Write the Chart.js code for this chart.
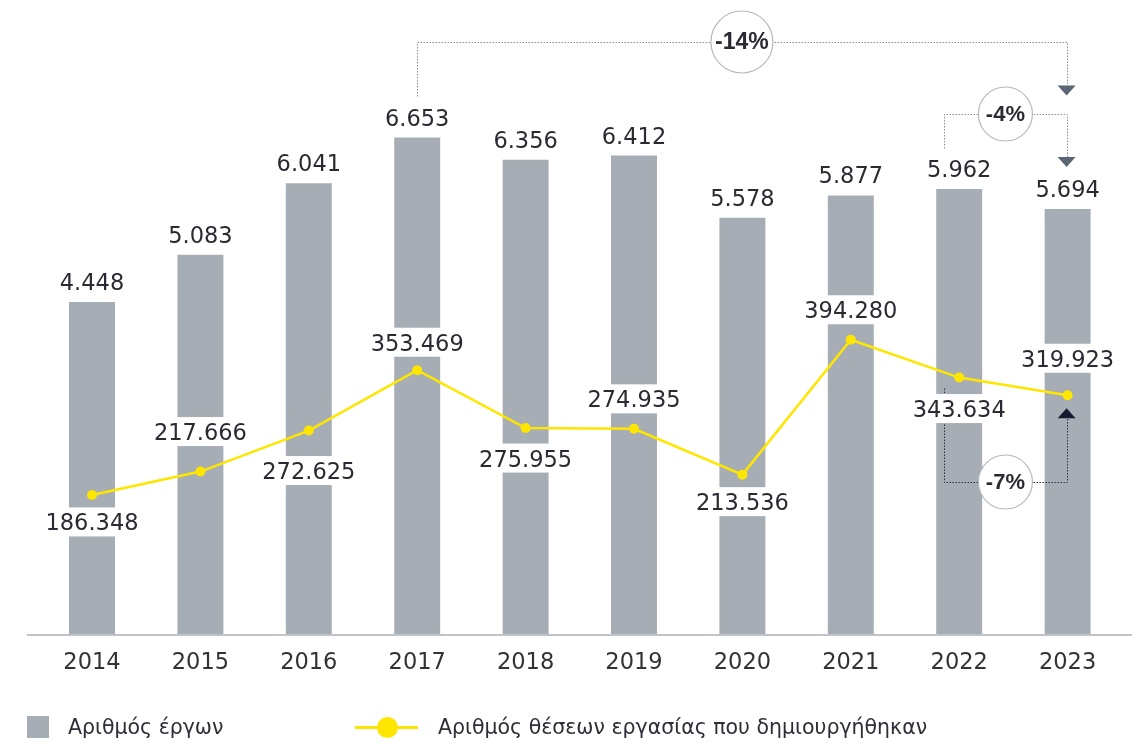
<!DOCTYPE html>
<html lang="el">
<head>
<meta charset="utf-8">
<title>Αριθμός έργων και θέσεων εργασίας</title>
<script src="https://cdn.jsdelivr.net/npm/chart.js@4.4.1/dist/chart.umd.min.js"></script>
<style>
  body { margin: 0; background: #fff; }
  #wrap { position: relative; width: 1132px; height: 743px; }
  #chart { position: absolute; left: 0; top: 0; }
  .legend-text { position: absolute; top: 714px; font: 20.5px 'DejaVu Sans', sans-serif; color: #2e2e38; line-height: 26px; white-space: nowrap; }
  .swatch { position: absolute; left: 27px; top: 716px; width: 22px; height: 22px; background: #a7adb4; }
  .legend-line { position: absolute; left: 355px; top: 726px; width: 63px; height: 3px; background: #ffe600; }
  .legend-dot { position: absolute; left: 377px; top: 717px; width: 21px; height: 21px; border-radius: 50%; background: #ffe600; }
</style>
</head>
<body>
<div id="wrap">
  <canvas id="chart" width="1132" height="743"></canvas>
  <div class="swatch"></div>
  <div class="legend-text" id="legend-bars" style="left:68px"></div>
  <div class="legend-line"></div>
  <div class="legend-dot"></div>
  <div class="legend-text" id="legend-line" style="left:438px"></div>
</div>
<script>
// data
const years = ['2014', '2015', '2016', '2017', '2018', '2019', '2020', '2021', '2022', '2023'];
const projects = [4448, 5083, 6041, 6653, 6356, 6412, 5578, 5877, 5962, 5694];
const jobs = [186348, 217666, 272625, 353469, 275955, 274935, 213536, 394280, 343634, 319923];

const projectsLabel = 'Αριθμός έργων';
const jobsLabel = 'Αριθμός θέσεων εργασίας που δημιουργήθηκαν';

// pixel offset of each job label box from its point (hand placed in the original)
const jobLabelOffsets = [27, -40, 40, -28, 30, -30, 27, -30, 31, -37];

const grey = '#a7adb4';
const yellow = '#ffe600';
const ink = '#2a2a33';

document.getElementById('legend-bars').textContent = projectsLabel;
document.getElementById('legend-line').textContent = jobsLabel;

function fmt(v) {
    return String(v).replace(/\B(?=(\d{3})+(?!\d))/g, '.');
}

function dotted(ctx, pts, color) {
    ctx.save();
    ctx.strokeStyle = color;
    ctx.lineWidth = 1;
    ctx.setLineDash([1.5, 1.5]);
    ctx.beginPath();
    pts.forEach((p, i) => {
        const x = Math.round(p[0]) + 0.5, y = Math.round(p[1]) + 0.5;
        if (i === 0) ctx.moveTo(x, y); else ctx.lineTo(x, y);
    });
    ctx.stroke();
    ctx.restore();
}

function arrow(ctx, x, tipY, dir, color) {
    // dir 1 = pointing down, -1 = pointing up
    ctx.save();
    ctx.fillStyle = color;
    ctx.beginPath();
    ctx.moveTo(x - 9, tipY - dir * 10);
    ctx.lineTo(x + 9, tipY - dir * 10);
    ctx.lineTo(x, tipY);
    ctx.closePath();
    ctx.fill();
    ctx.restore();
}

function badge(ctx, x, y, r, text, size) {
    ctx.save();
    ctx.beginPath();
    ctx.arc(x, y, r, 0, Math.PI * 2);
    ctx.fillStyle = '#fff';
    ctx.fill();
    ctx.lineWidth = 1.2;
    ctx.strokeStyle = '#b4b9c0';
    ctx.stroke();
    ctx.fillStyle = ink;
    ctx.font = 'bold ' + size + 'px "Liberation Sans", Arial, sans-serif';
    ctx.textAlign = 'center';
    ctx.textBaseline = 'middle';
    ctx.fillText(text, x, y + 1);
    ctx.restore();
}

const baseline = {
    id: 'baseline',
    beforeDatasetsDraw(chart) {
        const ctx = chart.ctx;
        const y = chart.chartArea.bottom;
        ctx.save();
        ctx.strokeStyle = '#c0c3c8';
        ctx.lineWidth = 2;
        ctx.beginPath();
        ctx.moveTo(chart.chartArea.left - 11, y + 1);
        ctx.lineTo(chart.width, y + 1);
        ctx.stroke();
        ctx.restore();
    }
};

const labelsAndNotes = {
    id: 'labelsAndNotes',
    afterDatasetsDraw(chart) {
        const ctx = chart.ctx;
        const pts = chart.getDatasetMeta(0).data;
        const bars = chart.getDatasetMeta(1).data;

        // comparison brackets
        const a = bars[3], b = bars[9], c = bars[8];
        const top14 = 42;
        const end14 = a.y - 42;
        dotted(ctx, [[a.x, end14], [a.x, top14], [b.x - 1, top14], [b.x - 1, end14 - 10]], '#8a9098');
        arrow(ctx, b.x - 1, end14, 1, '#5b6573');

        const top4 = 114;
        dotted(ctx, [[c.x - 15, c.y - 41], [c.x - 15, top4], [b.x - 1, top4], [b.x - 1, b.y - 52]], '#8a9098');
        arrow(ctx, b.x - 1, b.y - 42, 1, '#5b6573');

        const p8 = pts[8], p9 = pts[9];
        const bot7 = 482;
        dotted(ctx, [[p8.x - 15, p8.y + 10], [p8.x - 15, bot7], [p9.x - 1, bot7], [p9.x - 1, p9.y + 23]], '#2e2e38');
        arrow(ctx, p9.x - 1, p9.y + 13, -1, '#151b2e');

        // values above the bars
        ctx.save();
        ctx.font = '22.5px "DejaVu Sans", Verdana, sans-serif';
        ctx.fillStyle = ink;
        ctx.textAlign = 'center';
        ctx.textBaseline = 'alphabetic';
        bars.forEach((bar, i) => {
            ctx.fillText(fmt(projects[i]), bar.x, bar.y - 12);
        });

        // job values on white boxes
        pts.forEach((p, i) => {
            const t = fmt(jobs[i]);
            const w = ctx.measureText(t).width + 6;
            const cy = p.y + jobLabelOffsets[i];
            ctx.fillStyle = '#fff';
            ctx.fillRect(p.x - w / 2, cy - 14.5, w, 29);
            ctx.fillStyle = ink;
            ctx.fillText(t, p.x, cy + 8.5);
        });
        ctx.restore();

        badge(ctx, (a.x + b.x - 1) / 2, top14, 31, '-14%', 23);
        badge(ctx, (c.x - 15 + b.x - 1) / 2, top4, 27, '-4%', 22);
        badge(ctx, (p8.x - 15 + p9.x - 1) / 2, bot7, 27, '-7%', 22);
    }
};

const chart = new Chart('chart', {
    type: 'bar',
    data: {
        labels: years,
        datasets: [
            {
                type: 'line',
                label: jobsLabel,
                data: jobs,
                yAxisID: 'y1',
                borderColor: yellow,
                backgroundColor: yellow,
                borderWidth: 2.5,
                pointRadius: 5,
                pointBorderWidth: 0,
                pointBackgroundColor: yellow,
                tension: 0,
                order: 0
            },
            {
                label: projectsLabel,
                data: projects,
                yAxisID: 'y',
                backgroundColor: grey,
                borderWidth: 0,
                barPercentage: 0.424,
                categoryPercentage: 1,
                order: 1
            }
        ]
    },
    options: {
        responsive: false,
        animation: false,
        events: [],
        layout: {
            padding: { top: 37, left: 37.8, right: 10.2, bottom: 69 }
        },
        plugins: {
            legend: { display: false },
            tooltip: { enabled: false }
        },
        scales: {
            x: {
                offset: true,
                grid: { display: false, drawTicks: false },
                border: { display: false },
                ticks: {
                    color: '#333333',
                    padding: 16,
                    font: { family: 'DejaVu Sans', size: 22.5 }
                },
                afterFit(scale) { scale.height = 40; }
            },
            y: { display: false, min: 0, max: 8000 },
            y1: { display: false, min: 0, max: 800000 }
        }
    },
    plugins: [baseline, labelsAndNotes]
});
</script>
</body>
</html>
